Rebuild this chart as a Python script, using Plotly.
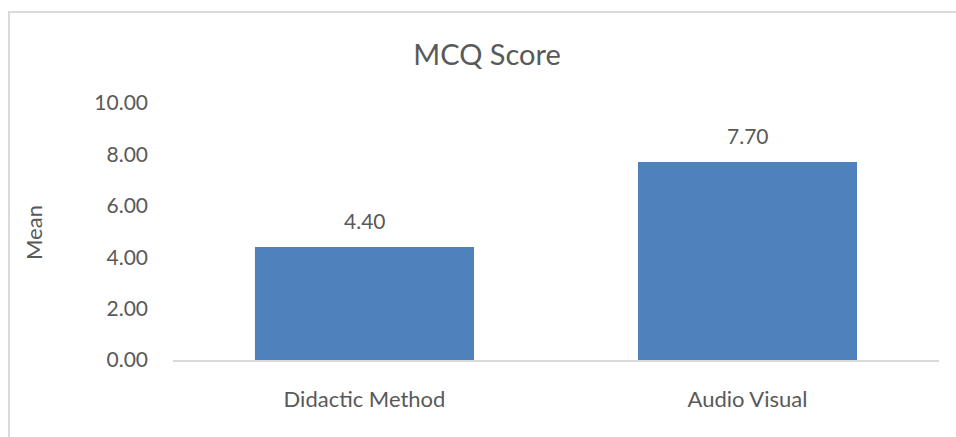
import plotly.graph_objects as go

categories = ["Didactic Method", "Audio Visual"]
values = [4.40, 7.70]
tick_vals = [0, 2, 4, 6, 8, 10]
tick_text = ["0.00", "2.00", "4.00", "6.00", "8.00", "10.00"]

W, H = 956, 437
L, R, T, B = 173, 17, 103, 77
pw, ph = W - L - R, H - T - B

font_family = "Lato, 'Open Sans', sans-serif"
gray = "#595959"

fig = go.Figure()
fig.add_trace(go.Bar(
    x=categories, y=values,
    marker=dict(color="#4F81BD", line=dict(width=0)),
    hoverinfo="x+y",
))

for c, v in zip(categories, values):
    fig.add_annotation(x=c, y=v, text=f"{v:.2f}", showarrow=False,
                       yanchor="bottom", yshift=12,
                       font=dict(family=font_family, size=21, color=gray))

fig.add_annotation(xref="paper", yref="paper",
                   x=(33 - L) / pw, y=(H - B - 233) / ph,
                   text="Mean", textangle=-90, showarrow=False,
                   xanchor="center", yanchor="middle",
                   font=dict(family=font_family, size=22, color=gray))

fig.add_shape(type="rect", xref="paper", yref="paper",
              x0=(9 - L) / pw, x1=(W + 5 - L) / pw,
              y0=(H - B - (H + 5)) / ph, y1=(H - B - 12) / ph,
              line=dict(color="#D9D9D9", width=2), fillcolor="rgba(0,0,0,0)",
              layer="below")

fig.update_layout(
    width=W, height=H,
    margin=dict(l=L, r=R, t=T, b=B, pad=0),
    paper_bgcolor="white", plot_bgcolor="white",
    bargap=0.428,
    showlegend=False,
    title=dict(text="MCQ Score", x=(487 - 0) / W, xanchor="center",
               y=1 - 55 / H, yanchor="middle",
               font=dict(family=font_family, size=29, color=gray)),
    xaxis=dict(showgrid=False, zeroline=False, showline=True,
               linecolor="#D9D9D9", linewidth=2, ticks="",
               ticklabelstandoff=19,
               tickfont=dict(family=font_family, size=22, color=gray)),
    yaxis=dict(range=[0, 10], tickvals=tick_vals, ticktext=tick_text,
               showgrid=False, zeroline=False, showline=False, ticks="",
               ticklabelstandoff=24,
               tickfont=dict(family=font_family, size=21, color=gray)),
)

fig.write_html("out.html", config={"displayModeBar": False},
               post_script="document.body.style.margin='0';"
                           "document.body.style.overflow='hidden';")
